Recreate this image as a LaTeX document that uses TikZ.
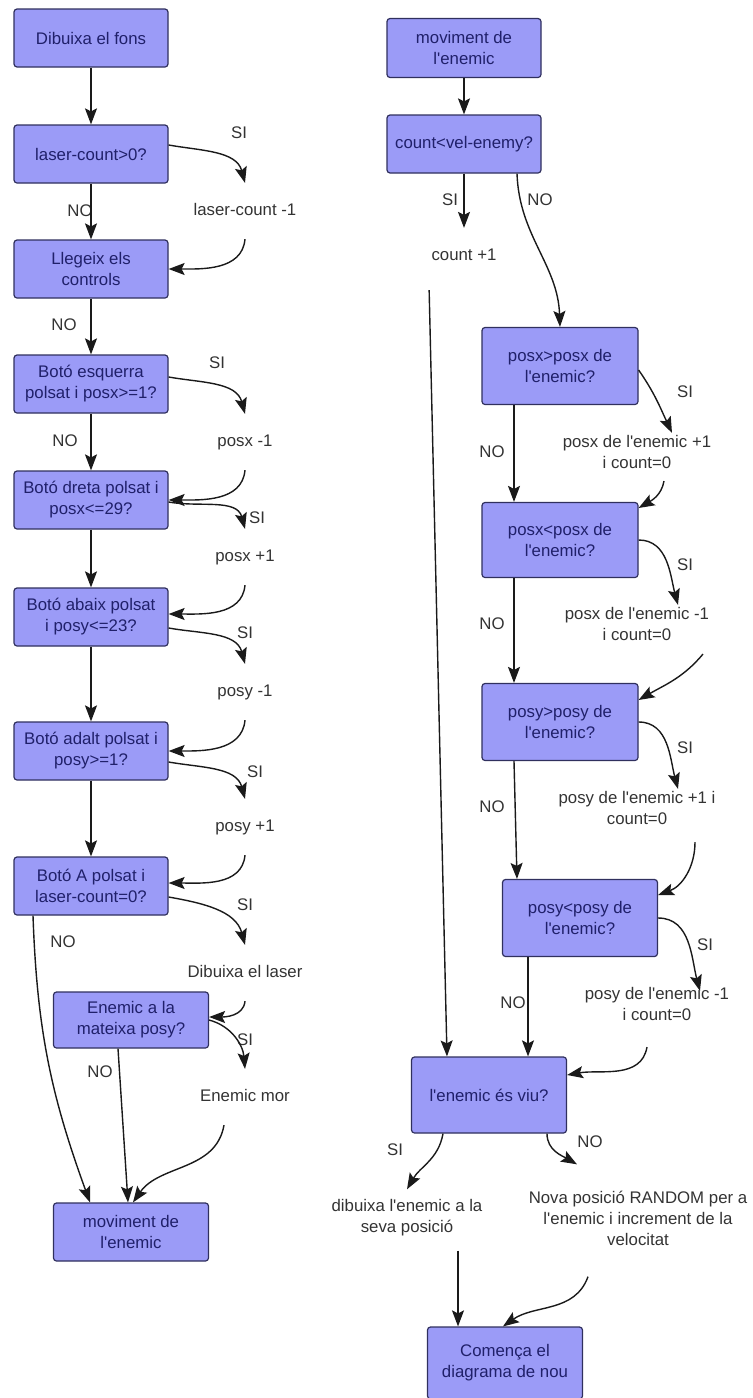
\documentclass[tikz,border=0pt]{standalone}
\usepackage{fontspec}
\setmainfont[Ligatures=TeXReset]{Liberation Sans}
\usepackage{tikz}
\usetikzlibrary{arrows.meta}
\definecolor{boxfill}{HTML}{9B9BF7}
\definecolor{boxline}{HTML}{30305E}
\definecolor{boxtext}{HTML}{20206A}
\definecolor{labeltext}{HTML}{333333}
\definecolor{arrowline}{HTML}{1A1A1A}

\begin{document}
\begin{tikzpicture}[x=0.5pt, y=0.5pt,
        every node/.style={font=\fontsize{8.4}{10.5}\selectfont},
        box/.style={rectangle, rounded corners=1.5pt, draw=boxline, line width=0.6pt,
          fill=boxfill, text=boxtext, minimum width=77pt, minimum height=29pt, align=center},
        tall/.style={box, minimum width=78pt, minimum height=38.5pt},
        act/.style={text=labeltext, inner xsep=1pt, inner ysep=10pt, text height=6pt, text depth=1.7pt},
        note/.style={text=labeltext, inner sep=1pt, align=center},
        tag/.style={text=labeltext, inner sep=1pt},
        arr/.style={-{Stealth[length=8pt, width=6pt, inset=1.5pt]}, line width=0.7pt, draw=arrowline}]
      \useasboundingbox (0,0) rectangle (752,-1398);
      % left column
      \node[box] (b1) at (91,-38) {Dibuixa el fons};
      \node[box] (b2) at (91,-154) {laser-count>0?};
      \node[box] (b3) at (91,-269) {Llegeix els\\controls};
      \node[box] (b4) at (91,-384) {Botó esquerra\\polsat i posx>=1?};
      \node[box] (b5) at (91,-500) {Botó dreta polsat i\\posx<=29?};
      \node[box] (b6) at (91,-617) {Botó abaix polsat\\i posy<=23?};
      \node[box] (b7) at (91,-751) {Botó adalt polsat i\\posy>=1?};
      \node[box] (b8) at (91,-886) {Botó A polsat i\\laser-count=0?};
      \node[box, minimum width=77.5pt, minimum height=28pt] (b9) at (131,-1020) {Enemic a la\\mateixa posy?};
      \node[box, minimum width=77.5pt] (b10) at (131,-1232) {moviment de\\l'enemic};
      \node[act] (a1) at (245,-211) {laser-count -1};
      \node[act] (a2) at (245,-442) {posx -1};
      \node[act] (a3) at (245,-557) {posx +1};
      \node[act] (a4) at (245,-692) {posy -1};
      \node[act] (a5) at (245,-827) {posy +1};
      \node[act] (a6) at (245,-973) {Dibuixa el laser};
      \node[act] (a7) at (245,-1097) {Enemic mor};
      \node[tag] (s1) at (239,-133) {SI};
      \node[tag] (s2) at (217,-363) {SI};
      \node[tag] (s3) at (257,-518) {SI};
      \node[tag] (s4) at (245,-633) {SI};
      \node[tag] (s5) at (255,-772) {SI};
      \node[tag] (s6) at (245,-905) {SI};
      \node[tag] (s7) at (245,-1040) {SI};
      \node[tag] (n1) at (80,-211) {NO};
      \node[tag] (n2) at (64,-325) {NO};
      \node[tag] (n3) at (65,-441) {NO};
      \node[tag] (n4) at (63,-942) {NO};
      \node[tag] (n5) at (100,-1072) {NO};
      \draw[arr] (b1) -- (b2);
      \draw[arr] (b2) -- (b3);
      \draw[arr] (b3) -- (b4);
      \draw[arr] (b4) -- (b5);
      \draw[arr] (b5) -- (b6);
      \draw[arr] (b6) -- (b7);
      \draw[arr] (b7) -- (b8);
      \draw[arr] ([yshift=4.5pt]b2.east) to[out=-10, in=105] (a1.north);
      \draw[arr] (a1.south) to[out=-95, in=0] (b3.east);
      \draw[arr] ([yshift=3.5pt]b4.east) to[out=-10, in=105] (a2.north);
      \draw[arr] (a2.south) to[out=-95, in=0] (b5.east);
      \draw[arr] ([yshift=-1pt]b5.east) to[out=-10, in=105] (a3.north);
      \draw[arr] (a3.south) to[out=-95, in=0] ([yshift=1.5pt]b6.east);
      \draw[arr] ([yshift=-5.5pt]b6.east) to[out=-10, in=105] (a4.north);
      \draw[arr] (a4.south) to[out=-95, in=0] (b7.east);
      \draw[arr] ([yshift=-5.5pt]b7.east) to[out=-10, in=105] (a5.north);
      \draw[arr] (a5.south) to[out=-95, in=0] ([yshift=1.5pt]b8.east);
      \draw[arr] ([yshift=-5.5pt]b8.east) to[out=-10, in=105] (a6.north);
      \draw[arr] (a6.south) to[out=-95, in=0] ([yshift=1.5pt]b9.east);
      \draw[arr] (b9.east) to[out=-15, in=95] (a7.north);
      \draw[arr] ([xshift=-10.5pt]a7.south) to[out=-100, in=55] ([xshift=1pt]b10.north);
      \draw[arr] ([xshift=-29pt]b8.south) to[out=-88, in=110] ([xshift=-20.5pt]b10.north);
      \draw[arr] ([xshift=-6.5pt]b9.south) -- ([xshift=-1.5pt]b10.north);
      % right column
      \node[box, minimum height=29.5pt] (r1) at (464,-48) {moviment de\\l'enemic};
      \node[box] (r2) at (464,-144) {count<vel-enemy?};
      \node[tall] (r3) at (560,-366) {posx>posx de\\l'enemic?};
      \node[tall, minimum height=37.5pt] (r4) at (560,-540) {posx<posx de\\l'enemic?};
      \node[tall] (r5) at (560,-722) {posy>posy de\\l'enemic?};
      \node[tall, minimum width=77.5pt] (r6) at (580,-918) {posy<posy de\\l'enemic?};
      \node[tall, minimum width=77.5pt, minimum height=38pt] (r7) at (489,-1095) {l'enemic és viu?};
      \node[tall, minimum width=77.5pt, minimum height=36pt] (r8) at (505,-1363) {Comença el\\diagrama de nou};
      \node[act] (c1) at (464,-256) {count +1};
      \node[note] (p1) at (637,-452) {posx de l'enemic +1\\i count=0};
      \node[note] (p2) at (637,-624) {posx de l'enemic -1\\i count=0};
      \node[note] (p3) at (637,-808) {posy de l'enemic +1 i\\count=0};
      \node[note] (p4) at (657,-1004) {posy de l'enemic -1\\i count=0};
      \node[note] (d1) at (407,-1218) {dibuixa l'enemic a la\\seva posició};
      \node[note] (d2) at (638,-1218) {Nova posició RANDOM per a\\l'enemic i increment de la\\velocitat};
      \node[tag] (s8) at (450,-200) {SI};
      \node[tag] (s9) at (685,-392) {SI};
      \node[tag] (s10) at (685,-565) {SI};
      \node[tag] (s11) at (685,-748) {SI};
      \node[tag] (s12) at (705,-945) {SI};
      \node[tag] (s13) at (395,-1150) {SI};
      \node[tag] (n6) at (540,-200) {NO};
      \node[tag] (n7) at (492,-452) {NO};
      \node[tag] (n8) at (492,-624) {NO};
      \node[tag] (n9) at (492,-807) {NO};
      \node[tag] (n10) at (513,-1003) {NO};
      \node[tag] (n11) at (590,-1142) {NO};
      \draw[arr] (r1) -- (r2);
      \draw[arr] (r2) -- (c1);
      \draw[arr] ([yshift=-3pt]c1.south west) -- ([xshift=-21pt]r7.north);
      \draw[arr] ([xshift=26.5pt]r2.south) to[out=-88, in=92] (r3.north);
      \draw[arr] ([yshift=-2pt]r3.east) to[out=-55, in=115] ([xshift=17.5pt]p1.north);
      \draw[arr] ([shift={(13.5pt,-5pt)}]p1.south) to[out=-100, in=30] ([yshift=16pt]r4.east);
      \draw[arr] ([xshift=-23pt]r3.south) -- ([xshift=-23pt]r4.north);
      \draw[arr] (r4.east) to[out=0, in=105] ([xshift=20.5pt]p2.north);
      \draw[arr] ([shift={(33pt,-5.5pt)}]p2.south) to[out=-130, in=30] ([yshift=11pt]r5.east);
      \draw[arr] ([xshift=-23pt]r4.south) -- ([xshift=-23pt]r5.north);
      \draw[arr] (r5.east) to[out=0, in=105] ([xshift=20.5pt]p3.north);
      \draw[arr] ([shift={(29pt,-7.5pt)}]p3.south) to[out=-90, in=20] ([yshift=11.5pt]r6.east);
      \draw[arr] ([xshift=-23pt]r5.south) -- ([xshift=-31.5pt]r6.north);
      \draw[arr] (r6.east) to[out=0, in=105] ([shift={(21.5pt,-3pt)}]p4.north);
      \draw[arr] ([shift={(-5pt,-12pt)}]p4.south) to[out=-100, in=10] ([yshift=10pt]r7.east);
      \draw[arr] ([xshift=-26pt]r6.south) -- ([xshift=19.5pt]r7.north);
      \draw[arr] ([xshift=-23pt]r7.south) to[out=-100, in=60] ([yshift=4pt]d1.north);
      \draw[arr] ([xshift=29pt]r7.south) to[out=-90, in=150] ([shift={(-30.5pt,12pt)}]d2.north);
      \draw[arr] ([shift={(25.5pt,-6pt)}]d1.south) -- ([xshift=-23.5pt]r8.north);
      \draw[arr] ([shift={(-25pt,-14.5pt)}]d2.south) to[out=-110, in=35] ([xshift=-1pt]r8.north);
    \end{tikzpicture}
\end{document}
